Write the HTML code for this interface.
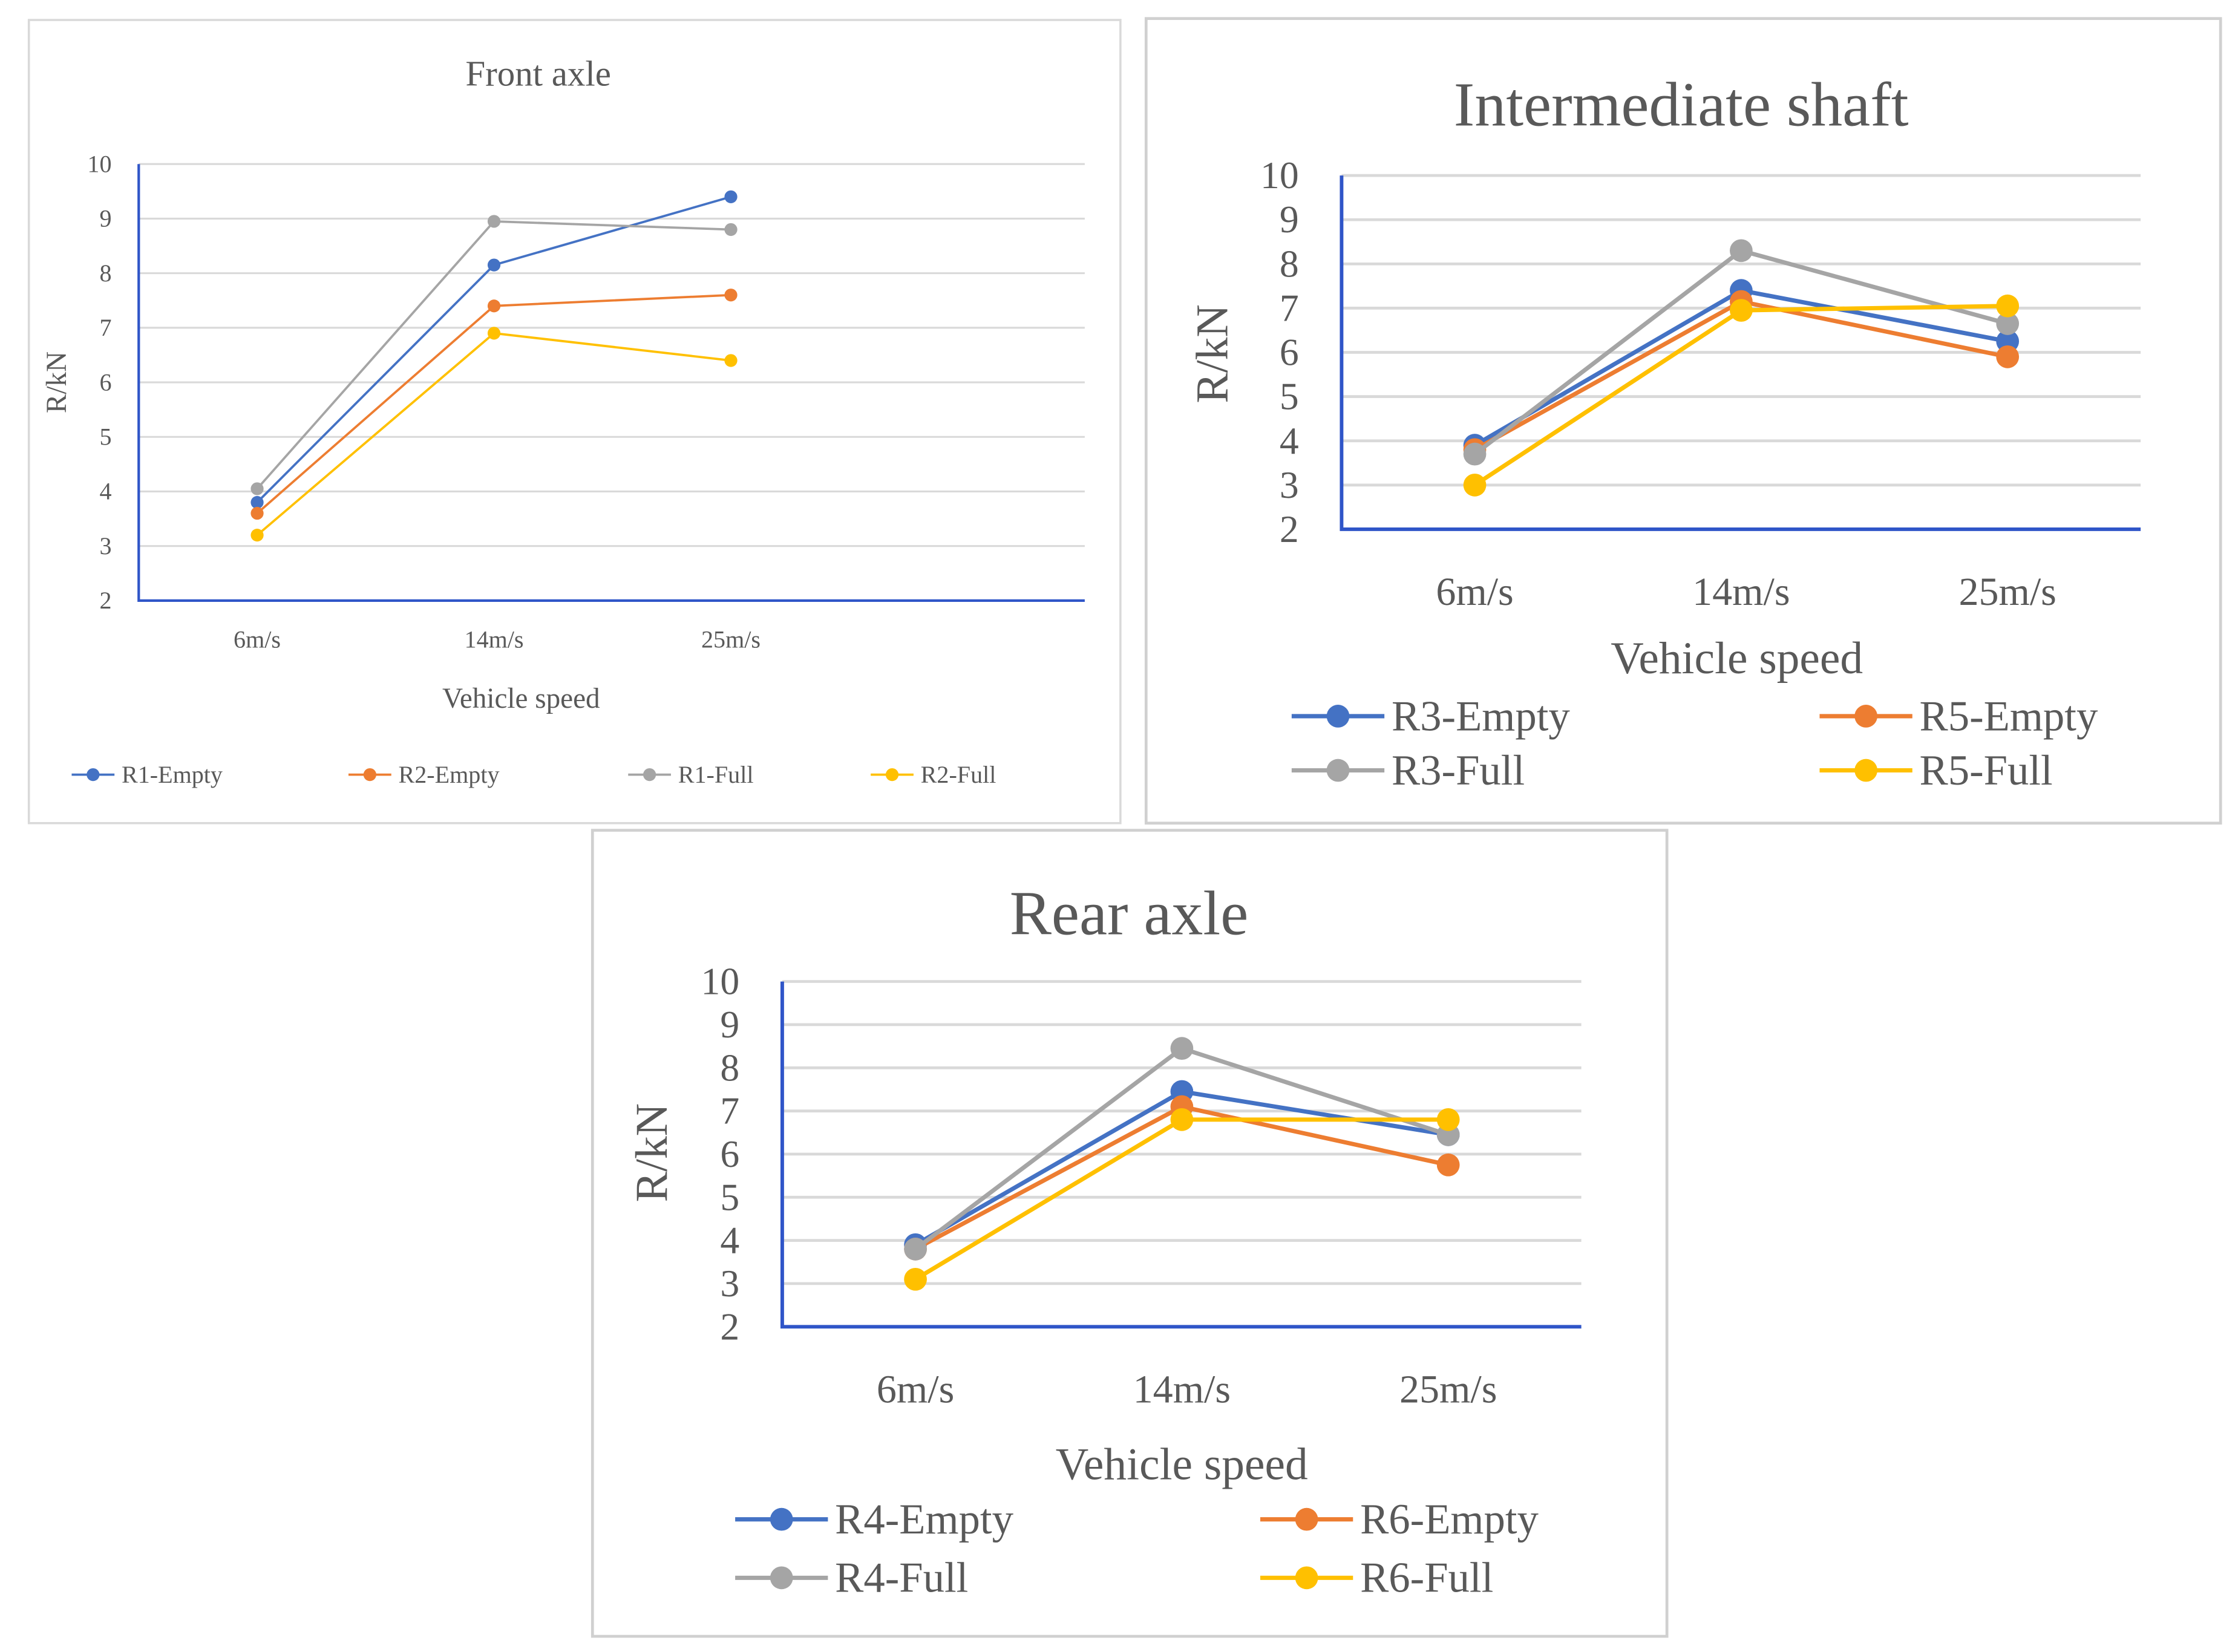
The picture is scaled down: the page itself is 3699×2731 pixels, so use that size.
<!DOCTYPE html>
<html><head><meta charset="utf-8"><style>
html,body{margin:0;padding:0;background:#fff;}
svg{display:block;}
text{font-family:"Liberation Serif",serif;fill:#595959;}
</style></head><body>
<svg id="root" width="3699" height="2731" viewBox="0 0 1568 1158" xmlns="http://www.w3.org/2000/svg">
<rect x="20" y="14" width="765" height="563" fill="#fff" stroke="#d9d9d9" stroke-width="1.5"/>
<rect x="803" y="13" width="753" height="564" fill="#fff" stroke="#d0d0d0" stroke-width="2"/>
<rect x="415" y="582" width="753" height="565" fill="#fff" stroke="#d0d0d0" stroke-width="2"/>
<g id="charts"></g>
</svg>
<script>
const categories = ["6m/s","14m/s","25m/s"];
const yTicks = [2,3,4,5,6,7,8,9,10];
const colors = ["#4472C4","#ED7D31","#A5A5A5","#FFC000"];
const frontNames = ["R1-Empty","R2-Empty","R1-Full","R2-Full"];
const frontR1Empty = [3.8,8.15,9.4];
const frontR2Empty = [3.6,7.4,7.6];
const frontR1Full = [4.05,8.95,8.8];
const frontR2Full = [3.2,6.9,6.4];
const shaftNames = ["R3-Empty","R5-Empty","R3-Full","R5-Full"];
const shaftR3Empty = [3.9,7.4,6.25];
const shaftR5Empty = [3.8,7.15,5.9];
const shaftR3Full = [3.7,8.3,6.65];
const shaftR5Full = [3.0,6.95,7.05];
const rearNames = ["R4-Empty","R6-Empty","R4-Full","R6-Full"];
const rearR4Empty = [3.9,7.45,6.45];
const rearR6Empty = [3.8,7.1,5.75];
const rearR4Full = [3.8,8.45,6.45];
const rearR6Full = [3.1,6.8,6.8];

const NS="http://www.w3.org/2000/svg";
const root=document.getElementById('charts');
function mk(tag,attrs,parent,txt){const e=document.createElementNS(NS,tag);for(const k in attrs)e.setAttribute(k,attrs[k]);if(txt!==undefined)e.textContent=txt;(parent||root).appendChild(e);return e;}

function drawChart(c){
  const g=mk('g',{});
  
  
  const yS=v=>c.y1-(v-2)/8*(c.y1-c.y0);
  const xS=i=>c.x0+c.bw*(i+0.5);
  let t=mk('text',{x:c.titleX,y:c.titleY,'text-anchor':'middle','font-size':c.titleSize},g,c.title);
  
  
  yTicks.forEach(v=>{
    if(v>2){const l=mk('line',{x1:c.x0,x2:c.x1,y1:yS(v),y2:yS(v),stroke:'#d9d9d9','stroke-width':c.gw},g);
      
      }
    const tl=mk('text',{x:c.tickX,y:yS(v)+c.tickSize*0.33,'text-anchor':'end','font-size':c.tickSize},g,String(v));
    
    
  });
  let ax=mk('path',{d:`M${c.x0},${c.y0} V${c.y1} H${c.x1}`,fill:'none',stroke:'#2F55C8','stroke-width':c.aw},g);
  
  
  categories.forEach((cat,i)=>{
    const tl=mk('text',{x:xS(i),y:c.catY,'text-anchor':'middle','font-size':c.catSize},g,cat);
    
    
  });
  t=mk('text',{x:c.xtX,y:c.xtY,'text-anchor':'middle','font-size':c.xtSize},g,'Vehicle speed');
  
  
  t=mk('text',{x:c.ytX,y:c.ytY,'text-anchor':'middle','font-size':c.ytSize,transform:`rotate(-90 ${c.ytX} ${c.ytY})`},g,'R/kN');
  
  
  c.series.forEach((s,k)=>{
    const pts=s.map((v,i)=>xS(i)+','+yS(v)).join(' ');
    const pl=mk('polyline',{points:pts,fill:'none',stroke:colors[k],'stroke-width':c.lw},g);
    
    
    s.forEach((v,i)=>{
      const m=mk('circle',{cx:xS(i),cy:yS(v),r:c.mr,fill:colors[k]},g);
      
      
    });
    const L=c.leg[k];
    const lg=mk('g',{},g);
    
    
    mk('line',{x1:L[0],x2:L[0]+c.legLen,y1:L[1],y2:L[1],stroke:colors[k],'stroke-width':c.lw},lg);
    mk('circle',{cx:L[0]+c.legLen/2,cy:L[1],r:c.mr,fill:colors[k]},lg);
    mk('text',{x:L[0]+c.legLen+5,y:L[1]+c.legSize*0.33,'font-size':c.legSize},lg,c.names[k]);
  });
}

drawChart({key:'front-axle',title:'Front axle',titleX:377,titleY:60,titleSize:25,x0:97,x1:760,y0:115,y1:421,bw:166,
  tickX:78,tickSize:17,catY:454,catSize:17,xtX:365,xtY:496,xtSize:20,ytX:46,ytY:268,ytSize:20,lw:1.6,mr:4.5,gw:1.3,aw:1.8,
  series:[frontR1Empty,frontR2Empty,frontR1Full,frontR2Full],names:frontNames,
  leg:[[50,543],[244,543],[440,543],[610,543]],legLen:30,legSize:17});
drawChart({key:'intermediate-shaft',title:'Intermediate shaft',titleX:1178,titleY:88,titleSize:44,x0:940,x1:1500,y0:123,y1:371,bw:186.7,
  tickX:910,tickSize:27,catY:424,catSize:28,xtX:1217,xtY:472,xtSize:32,ytX:860,ytY:248,ytSize:32,lw:3,mr:8,gw:2,aw:2.5,
  series:[shaftR3Empty,shaftR5Empty,shaftR3Full,shaftR5Full],names:shaftNames,
  leg:[[905,502],[1275,502],[905,540],[1275,540]],legLen:65,legSize:30});
drawChart({key:'rear-axle',title:'Rear axle',titleX:791,titleY:655,titleSize:44,x0:548,x1:1108,y0:688,y1:930,bw:186.7,
  tickX:518,tickSize:27,catY:983,catSize:28,xtX:828,xtY:1037,xtSize:32,ytX:467,ytY:808,ytSize:32,lw:3,mr:8,gw:2,aw:2.5,
  series:[rearR4Empty,rearR6Empty,rearR4Full,rearR6Full],names:rearNames,
  leg:[[515,1065],[883,1065],[515,1106],[883,1106]],legLen:65,legSize:30});
</script>
</body></html>
